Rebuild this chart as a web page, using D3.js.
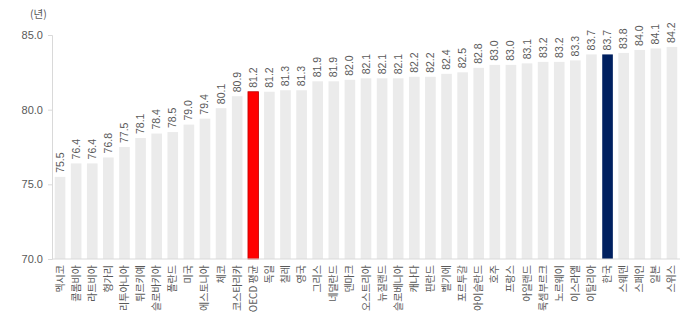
<!DOCTYPE html>
<html>
<head>
<meta charset="utf-8">
<script src="https://cdn.jsdelivr.net/npm/d3@7"></script>
<style>
  body { margin: 0; background: #fff; }
  svg { font-family: "Noto Sans CJK KR", "Liberation Sans", sans-serif; }
</style>
</head>
<body>
<div id="chart"></div>
<script>
const countries = ["멕시코", "콜롬비아", "라트비아", "헝가리", "리투아니아", "튀르키예", "슬로바키아", "폴란드", "미국", "에스토니아",
  "체코", "코스타리카", "OECD 평균", "독일", "칠레", "영국", "그리스", "네덜란드", "덴마크", "오스트리아",
  "뉴질랜드", "슬로베니아", "캐나다", "핀란드", "벨기에", "포르투갈", "아이슬란드", "호주", "프랑스", "아일랜드",
  "룩셈부르크", "노르웨이", "이스라엘", "이탈리아", "한국", "스웨덴", "스페인", "일본", "스위스"];
const lifeExpectancy = [75.5, 76.4, 76.4, 76.8, 77.5, 78.1, 78.4, 78.5, 79.0, 79.4,
  80.1, 80.9, 81.2, 81.2, 81.3, 81.3, 81.9, 81.9, 82.0, 82.1,
  82.1, 82.1, 82.2, 82.2, 82.4, 82.5, 82.8, 83.0, 83.0, 83.1,
  83.2, 83.2, 83.3, 83.7, 83.7, 83.8, 84.0, 84.1, 84.2];
const yTicks = [70, 75, 80, 85];
const unitLabel = "(년)";

const width = 700, height = 315;
const margin = { top: 35, right: 20, bottom: 56, left: 52 };

const data = countries.map((c, i) => ({ name: c, value: lifeExpectancy[i] }));

const svg = d3.select("#chart").append("svg")
  .attr("width", width)
  .attr("height", height);

const x = d3.scaleBand()
  .domain(countries)
  .range([margin.left, width - margin.right])
  .paddingInner(0.34)
  .paddingOuter(0.17);

const y = d3.scaleLinear()
  .domain([70, 85])
  .range([height - margin.bottom, margin.top]);

const fillFor = d => d.name === "OECD 평균" ? "#ff0000" : d.name === "한국" ? "#002060" : "#ebebeb";

// bars
svg.append("g").selectAll("rect")
  .data(data)
  .join("rect")
  .attr("x", d => x(d.name))
  .attr("y", d => y(d.value))
  .attr("width", x.bandwidth())
  .attr("height", d => y(70) - y(d.value))
  .attr("fill", fillFor)
  .attr("stroke", d => d.name === "OECD 평균" ? "#c00000" : "none")
  .attr("stroke-width", 0.8);

// y axis
const yAxis = svg.append("g")
  .attr("transform", `translate(${margin.left},0)`)
  .call(d3.axisLeft(y).tickValues(yTicks).tickFormat(d3.format(".1f")).tickSize(4).tickPadding(5));
yAxis.select(".domain").attr("stroke", "#d9d9d9");
yAxis.selectAll(".tick line").attr("stroke", "#d9d9d9");
yAxis.selectAll(".tick text").attr("fill", "#595959").style("font-family", "Liberation Sans, sans-serif").style("font-size", "11px");

// x baseline
svg.append("line")
  .attr("x1", margin.left).attr("x2", width - margin.right)
  .attr("y1", y(70)).attr("y2", y(70))
  .attr("stroke", "#d9d9d9");

// value labels
svg.append("g").selectAll("text")
  .data(data)
  .join("text")
  .attr("transform", d => `translate(${x(d.name) + x.bandwidth() / 2 + 3.5},${y(d.value) - 4}) rotate(-90)`)
  .attr("fill", "#595959")
  .style("font-family", "Liberation Sans, sans-serif")
  .style("font-size", "10.5px")
  .text(d => d.value.toFixed(1));

// category labels
svg.append("g").selectAll("text")
  .data(data)
  .join("text")
  .attr("transform", d => `translate(${x(d.name) + x.bandwidth() / 2 + 3.5},${y(70) + 6}) rotate(-90)`)
  .attr("text-anchor", "end")
  .attr("fill", "#595959")
  .style("font-size", "10px")
  .text(d => d.name);

// unit
svg.append("text")
  .attr("x", 30).attr("y", 18)
  .attr("fill", "#595959")
  .style("font-size", "10.5px")
  .text(unitLabel);
</script>
</body>
</html>
